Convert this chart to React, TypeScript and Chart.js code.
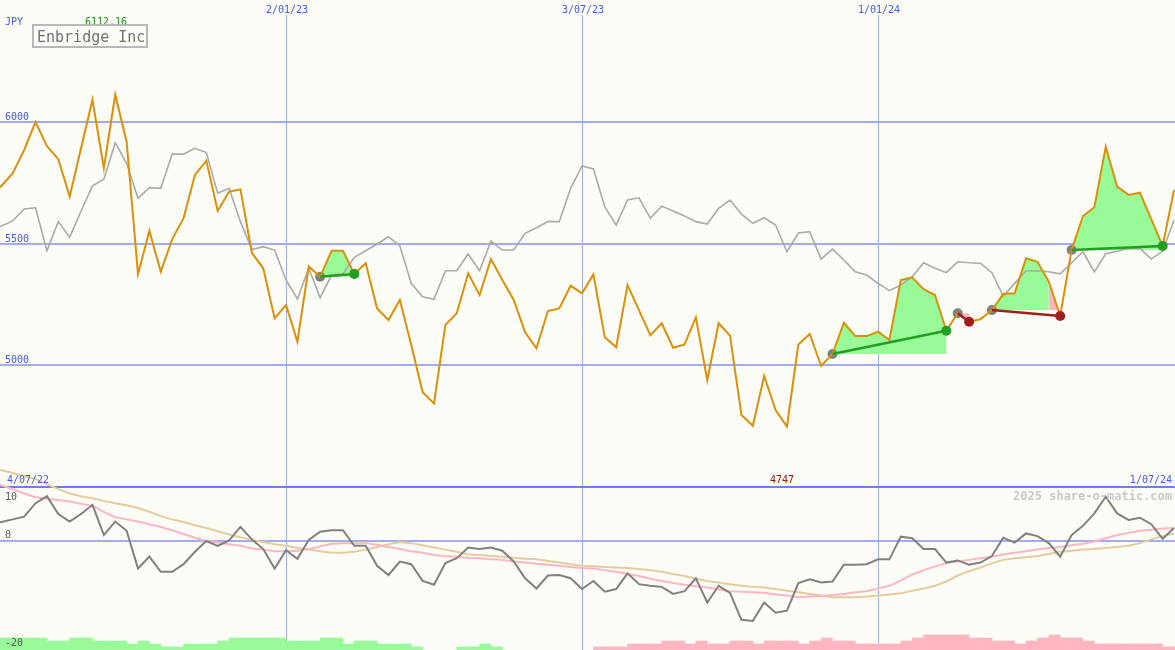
import { useEffect, useRef } from 'react';
import { Chart, registerables } from 'chart.js';

Chart.register(...registerables);

// ---------------- data ----------------
const START_LABEL = '4/07/22';
const END_LABEL = '1/07/24';
const CURRENCY = 'JPY';
const TITLE = 'Enbridge Inc';
const WATERMARK = '2025 share-o-matic.com';

const dateTickIdx = [26, 52, 78];
const dateTickLabels = ['2/01/23', '3/07/23', '1/01/24'];
const priceGrid = [5000, 5500, 6000];
const oscZero = 0;
const oscTop = 10;
const oscLabels = [10, 0, -20];

// weekly close (orange)
const price = [
  5700, 5737, 5789, 5885, 6000, 5901, 5847, 5693, 5893, 6091,
  5810, 6112.16, 5919, 5375, 5552, 5384, 5517, 5604, 5782, 5841,
  5634, 5713, 5723, 5462, 5398, 5192, 5247, 5096, 5405, 5363,
  5470, 5470, 5375, 5419, 5233, 5185, 5268, 5082, 4888, 4842,
  5165, 5213, 5377, 5288, 5436, 5350, 5268, 5135, 5069, 5222,
  5233, 5326, 5295, 5373, 5114, 5073, 5329, 5226, 5123, 5172,
  5071, 5085, 5196, 4938, 5172, 5121, 4794, 4750, 4955, 4815,
  4747, 5084, 5128, 4996, 5045, 5174, 5119, 5119, 5137, 5103,
  5350, 5361, 5312, 5288, 5141, 5213, 5178, 5188, 5226, 5292,
  5295, 5439, 5425, 5343, 5202, 5473, 5613, 5649, 5898, 5734,
  5700, 5709, 5600, 5490, 5720,
];

// comparison (gray)
const compare = [
  5556, 5572, 5593, 5642, 5647, 5470, 5590, 5526, 5634, 5737,
  5765, 5915, 5830, 5686, 5730, 5727, 5868, 5868, 5892, 5874,
  5707, 5727, 5590, 5475, 5487, 5473, 5350, 5272, 5398, 5277,
  5370, 5375, 5443, 5470, 5498, 5528, 5490, 5336, 5281, 5270,
  5388, 5388, 5457, 5388, 5510, 5473, 5473, 5542, 5565, 5590,
  5590, 5727, 5819, 5807, 5651, 5576, 5679, 5688, 5604, 5654,
  5634, 5613, 5590, 5580, 5645, 5679, 5621, 5583, 5606, 5576,
  5466, 5543, 5549, 5436, 5477, 5432, 5384, 5370, 5336, 5306,
  5329, 5363, 5421, 5398, 5380, 5425, 5421, 5419, 5380, 5284,
  5336, 5387, 5388, 5384, 5375, 5420, 5466, 5383, 5458, 5468,
  5480, 5480, 5436, 5469, 5597,
];

// oscillator (dark gray)
const osc = [
  3.5, 3.5, 4.0, 4.5, 7.0, 8.3, 5.0, 3.6, 5.0, 6.7,
  1.1, 3.6, 1.9, -5.1, -2.9, -5.7, -5.7, -4.3, -2.0, 0.0,
  -0.9, 0.1, 2.6, 0.3, -1.5, -5.1, -1.7, -3.3, 0.2, 1.7,
  2.0, 2.0, -0.9, -0.9, -4.6, -6.3, -3.8, -4.3, -7.4, -8.1,
  -4.1, -3.2, -1.2, -1.5, -1.2, -1.8, -3.8, -6.9, -8.8, -6.4,
  -6.3, -6.9, -8.9, -7.4, -9.4, -8.9, -6.0, -8.0, -8.3, -8.5,
  -9.8, -9.3, -6.9, -11.4, -8.3, -9.6, -14.6, -14.8, -11.4, -13.3,
  -12.9, -7.8, -7.1, -7.7, -7.5, -4.4, -4.4, -4.3, -3.4, -3.4,
  0.8, 0.5, -1.5, -1.5, -4.0, -3.6, -4.4, -4.0, -2.8, 0.6,
  -0.3, 1.4, 0.9, -0.4, -2.9, 1.1, 2.8, 5.1, 8.2, 5.1,
  3.9, 4.3, 3.1, 0.4, 2.4,
];

// fast average (pink)
const oscFast = [
  11.1, 10.3, 9.6, 8.8, 8.1, 7.8, 7.6, 7.3, 6.9, 6.5,
  5.4, 4.4, 4.0, 3.6, 3.1, 2.6, 2.0, 1.3, 0.6, 0.0,
  -0.3, -0.6, -0.9, -1.4, -1.6, -1.9, -1.9, -1.8, -1.5, -1.0,
  -0.5, -0.4, -0.4, -0.4, -0.7, -1.1, -1.5, -1.9, -2.2, -2.6,
  -2.8, -2.9, -3.1, -3.2, -3.4, -3.5, -3.8, -4.0, -4.2, -4.4,
  -4.6, -4.8, -5.0, -5.1, -5.4, -5.7, -6.1, -6.5, -7.0, -7.4,
  -7.8, -8.1, -8.4, -8.6, -9.0, -9.3, -9.4, -9.5, -9.6, -9.9,
  -10.1, -10.4, -10.3, -10.2, -10.0, -9.8, -9.5, -9.3, -8.8, -8.3,
  -7.3, -6.2, -5.4, -4.7, -4.1, -3.8, -3.5, -3.2, -2.9, -2.5,
  -2.2, -1.9, -1.6, -1.3, -1.1, -0.8, -0.5, -0.1, 0.5, 1.1,
  1.5, 1.9, 2.1, 2.3, 2.4,
];

// slow average (tan)
const oscSlow = [
  13.9, 13.1, 12.6, 12.0, 11.5, 10.5, 9.6, 8.8, 8.3, 7.9,
  7.4, 7.0, 6.6, 6.1, 5.4, 4.6, 4.0, 3.5, 2.9, 2.4,
  1.8, 1.2, 0.7, 0.2, -0.2, -0.6, -0.9, -1.3, -1.6, -1.9,
  -2.2, -2.2, -2.0, -1.6, -1.1, -0.6, -0.2, -0.4, -0.8, -1.2,
  -1.6, -2.0, -2.5, -2.6, -2.8, -2.9, -3.1, -3.3, -3.4, -3.7,
  -4.0, -4.3, -4.6, -4.7, -4.8, -4.9, -5.0, -5.2, -5.4, -5.7,
  -6.1, -6.5, -7.0, -7.4, -7.7, -8.0, -8.3, -8.5, -8.6, -8.9,
  -9.2, -9.5, -9.8, -10.1, -10.4, -10.4, -10.4, -10.3, -10.1, -9.9,
  -9.7, -9.2, -8.8, -8.3, -7.5, -6.4, -5.6, -4.9, -4.1, -3.5,
  -3.2, -3.0, -2.8, -2.4, -2.0, -1.8, -1.6, -1.5, -1.3, -1.1,
  -0.9, -0.4, 0.3, 0.9, 1.4,
];

// signed histogram levels (positive = green, negative = pink)
const volume = [
  4, 4, 4, 4, 4, 3, 3, 4, 4, 3,
  3, 3, 2, 3, 2, 1, 1, 2, 2, 2,
  3, 4, 4, 4, 4, 4, 3, 3, 3, 4,
  4, 2, 3, 3, 2, 2, 2, 1, 0, 0,
  0, 1, 1, 2, 1, 0, 0, 0, 0, 0,
  0, 0, 0, -1, -1, -1, -2, -2, -2, -3,
  -3, -2, -3, -2, -2, -3, -3, -2, -3, -3,
  -3, -2, -3, -4, -3, -3, -2, -2, -2, -2,
  -3, -4, -5, -5, -5, -5, -4, -4, -3, -3,
  -2, -3, -4, -5, -4, -4, -3, -2, -2, -2,
  -2, -2, -2, -1, -1,
];

const tradeEntry = [29, 74, 85, 88, 95];
const tradeExit = [32, 84, 86, 94, 103];

// ---------------- styles ----------------
const BG = '#fdfdf8';
const GRID = 'rgb(162,172,240)';
const SEP = 'rgb(112,128,232)';
const BLUE = 'rgb(70,88,228)';
const ORANGE = 'rgb(218,144,8)';
const GRAY = 'rgb(170,170,170)';
const OSC = 'rgb(128,128,128)';
const PINK = 'rgb(255,182,193)';
const TAN = 'rgb(228,204,158)';
const GREEN_FILL = 'rgb(152,251,152)';
const PINK_FILL = 'rgb(255,182,193)';
const WIN = 'rgb(34,158,34)';
const LOSS = 'rgb(162,30,30)';
const ENTRY = 'rgb(128,128,128)';
const MONO = '"DejaVu Sans Mono", monospace';

const W = 1175;
const H = 650;

const pts = (arr: number[]) => arr.map((v, i) => ({ x: i, y: v }));
const rangePts = (a: number, b: number) => {
  const out: { x: number; y: number }[] = [];
  for (let i = a; i <= b; i++) out.push({ x: i, y: price[i] });
  return out;
};

export default function App() {
  const ref = useRef<HTMLCanvasElement | null>(null);

  useEffect(() => {
    if (!ref.current) return;

    const datasets: any[] = [];

    // histogram
    datasets.push({
      type: 'bar',
      yAxisID: 'y3',
      data: volume
        .map((v, i) => ({ x: i + 0.5, y: Math.abs(v), s: v }))
        .filter((d) => d.y !== 0),
      backgroundColor: (c: any) => (c.raw && c.raw.s > 0 ? GREEN_FILL : PINK_FILL),
      borderWidth: 0,
      barPercentage: 1,
      categoryPercentage: 1,
      order: 9,
    });

    datasets.push({ data: pts(oscSlow), yAxisID: 'y2', borderColor: TAN, borderWidth: 2, order: 8 });
    datasets.push({ data: pts(oscFast), yAxisID: 'y2', borderColor: PINK, borderWidth: 2, order: 7 });
    datasets.push({ data: pts(osc), yAxisID: 'y2', borderColor: OSC, borderWidth: 2, order: 6 });

    // trade fills
    tradeEntry.forEach((e, k) => {
      const x = tradeExit[k];
      const win = price[x] > price[e];
      const greenEnd = win ? x : x - 1;
      const target = { value: price[e] };
      if (greenEnd > e) {
        datasets.push({
          data: rangePts(e, greenEnd),
          yAxisID: 'y',
          borderColor: 'transparent',
          borderWidth: 1,
          fill: { target, above: GREEN_FILL, below: GREEN_FILL },
          order: 5,
        });
      }
      if (!win) {
        datasets.push({
          data: rangePts(x - 1, x),
          yAxisID: 'y',
          borderColor: 'transparent',
          borderWidth: 1,
          fill: { target, above: PINK_FILL, below: PINK_FILL },
          order: 5,
        });
      }
    });

    datasets.push({ data: pts(compare), yAxisID: 'y', borderColor: GRAY, borderWidth: 1.6, order: 4 });

    // entry markers
    datasets.push({
      data: tradeEntry.map((i) => ({ x: i, y: price[i] })),
      yAxisID: 'y',
      showLine: false,
      pointRadius: 5,
      pointBorderWidth: 0,
      pointBackgroundColor: ENTRY,
      order: 3,
    });

    datasets.push({ data: pts(price), yAxisID: 'y', borderColor: ORANGE, borderWidth: 2, order: 2 });

    // trade lines
    tradeEntry.forEach((e, k) => {
      const x = tradeExit[k];
      const win = price[x] > price[e];
      datasets.push({
        data: [
          { x: e, y: price[e] },
          { x, y: price[x] },
        ],
        yAxisID: 'y',
        borderColor: win ? WIN : LOSS,
        borderWidth: 2.5,
        order: 1,
      });
    });

    // exit markers
    datasets.push({
      data: tradeExit.map((i) => ({ x: i, y: price[i] })),
      yAxisID: 'y',
      showLine: false,
      pointRadius: 5,
      pointBorderWidth: 0,
      pointBackgroundColor: tradeExit.map((x, k) => (price[x] > price[tradeEntry[k]] ? WIN : LOSS)),
      order: 0,
    });

    const bgPlugin = {
      id: 'bg',
      beforeDraw(chart: any) {
        const { ctx } = chart;
        ctx.save();
        ctx.fillStyle = BG;
        ctx.fillRect(0, 0, chart.width, chart.height);
        ctx.restore();
      },
    };

    const gridPlugin = {
      id: 'grid',
      beforeDatasetsDraw(chart: any) {
        const { ctx, chartArea, scales } = chart;
        ctx.save();
        ctx.strokeStyle = GRID;
        ctx.lineWidth = 1;
        dateTickIdx.forEach((i) => {
          const px = Math.round(scales.x.getPixelForValue(i)) + 0.5;
          ctx.beginPath();
          ctx.moveTo(px, 15);
          ctx.lineTo(px, chartArea.bottom);
          ctx.stroke();
        });
        ctx.lineWidth = 2;
        const hline = (py: number, color: string) => {
          ctx.strokeStyle = color;
          ctx.beginPath();
          ctx.moveTo(chartArea.left, Math.round(py));
          ctx.lineTo(chartArea.right, Math.round(py));
          ctx.stroke();
        };
        priceGrid.forEach((v) => hline(scales.y.getPixelForValue(v), GRID));
        hline(scales.y2.getPixelForValue(oscZero), GRID);
        hline(scales.y2.getPixelForValue(oscTop), SEP);
        ctx.restore();
      },
    };

    const textPlugin = {
      id: 'texts',
      afterDatasetsDraw(chart: any) {
        const { ctx, scales } = chart;
        ctx.save();
        ctx.textBaseline = 'alphabetic';
        ctx.font = `10px ${MONO}`;
        ctx.fillStyle = BLUE;
        ctx.textAlign = 'left';
        ctx.fillText(CURRENCY, 5, 25);
        priceGrid.forEach((v) => ctx.fillText(String(v), 5, Math.round(scales.y.getPixelForValue(v)) - 2));
        ctx.textAlign = 'center';
        dateTickIdx.forEach((i, k) => ctx.fillText(dateTickLabels[k], scales.x.getPixelForValue(i) + 1, 13));
        const sepY = Math.round(scales.y2.getPixelForValue(oscTop));
        ctx.textAlign = 'left';
        ctx.fillText(START_LABEL, 7, sepY - 4);
        ctx.textAlign = 'right';
        ctx.fillText(END_LABEL, 1172, sepY - 4);

        // max / min
        const maxV = Math.max(...price);
        const minV = Math.min(...price);
        ctx.textAlign = 'left';
        ctx.fillStyle = 'rgb(20,150,20)';
        ctx.fillText(maxV.toFixed(2), 85, 25);
        ctx.fillStyle = 'rgb(160,20,20)';
        ctx.fillText(String(Math.round(minV)), 770, sepY - 4);

        // oscillator labels
        ctx.fillStyle = 'rgb(90,90,90)';
        oscLabels.forEach((v) => {
          const py = Math.round(scales.y2.getPixelForValue(v));
          ctx.fillText(String(v), 5, v === oscTop ? py + 13 : py - 3);
        });

        // watermark
        ctx.font = `bold 12px ${MONO}`;
        ctx.fillStyle = 'rgb(200,200,200)';
        ctx.textAlign = 'right';
        ctx.fillText(WATERMARK, 1172, sepY + 13);

        // title box
        ctx.strokeStyle = 'rgb(184,184,184)';
        ctx.lineWidth = 2;
        ctx.strokeRect(33, 25, 114, 22);
        ctx.font = `15px ${MONO}`;
        ctx.fillStyle = 'rgb(112,112,112)';
        ctx.textAlign = 'left';
        ctx.fillText(TITLE, 37, 42);
        ctx.restore();
      },
    };

    const chart = new Chart(ref.current, {
      type: 'line',
      data: { datasets },
      options: {
        animation: false,
        responsive: false,
        devicePixelRatio: 1,
        events: [],
        layout: { padding: 0, autoPadding: false },
        elements: { point: { radius: 0 }, line: { tension: 0 } },
        plugins: { legend: { display: false }, tooltip: { enabled: false } },
        scales: {
          x: { type: 'linear', min: 0.878, max: 104.084, display: false, offset: false },
          y: { type: 'linear', min: 3827.2, max: 6502.1, display: false },
          y2: { type: 'linear', min: -20.19, max: 100.18, display: false },
          y3: { type: 'linear', min: 0, max: 216.67, display: false },
        },
      } as any,
      plugins: [bgPlugin, gridPlugin, textPlugin],
    });

    return () => chart.destroy();
  }, []);

  return (
    <div style={{ position: 'fixed', left: 0, top: 0, width: W, height: H, background: BG }}>
      <canvas ref={ref} width={W} height={H} style={{ display: 'block', width: W, height: H }} />
    </div>
  );
}
